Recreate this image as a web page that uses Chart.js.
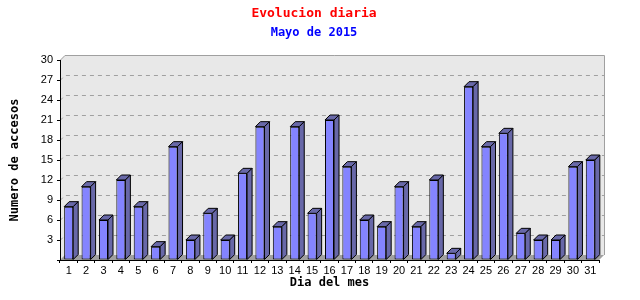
<!DOCTYPE html>
<html>
<head>
<meta charset="utf-8">
<script src="https://cdn.jsdelivr.net/npm/chart.js@4/dist/chart.umd.min.js"></script>
<style>
  html, body { margin: 0; padding: 0; background: #fff; }
  #wrap { width: 640px; height: 300px; }
</style>
</head>
<body>
<div id="wrap"><canvas id="c" width="640" height="300"></canvas></div>
<script>
// daily hits, May 2015
const days = ['1','2','3','4','5','6','7','8','9','10','11','12','13','14','15','16',
  '17','18','19','20','21','22','23','24','25','26','27','28','29','30','31'];
const accesses = [8, 11, 6, 12, 8, 2, 17, 3, 7, 3, 13, 20, 5, 20, 7, 21,
  14, 6, 5, 11, 5, 12, 1, 26, 17, 19, 4, 3, 3, 14, 15];
const yTicks = [3, 6, 9, 12, 15, 18, 21, 24, 27, 30];

const DEPTH = 5;
const WALL = '#e8e8e8', WALL_EDGE = '#a0a0a0', FLOOR = '#a0a0a0', GRID = '#a0a0a0';
const FRONT = '#8484ff', SIDE = '#6868a8';

// back wall, left wall, floor and dashed grid behind the bars
const walls3d = {
  id: 'walls3d',
  beforeDraw(chart) {
    const { ctx, chartArea: a } = chart;
    const y = chart.scales.y, d = DEPTH;
    ctx.save();
    ctx.fillStyle = WALL;
    ctx.beginPath();
    ctx.moveTo(a.left, a.bottom);
    ctx.lineTo(a.left, a.top);
    ctx.lineTo(a.left + d, a.top - d);
    ctx.lineTo(a.right + d, a.top - d);
    ctx.lineTo(a.right + d, a.bottom - d);
    ctx.lineTo(a.right, a.bottom);
    ctx.closePath();
    ctx.fill();

    ctx.strokeStyle = WALL_EDGE;
    ctx.lineWidth = 1;
    ctx.beginPath();
    ctx.moveTo(a.left, a.top + 0.5);
    ctx.lineTo(a.left + d, a.top - d + 0.5);
    ctx.lineTo(a.right + d + 0.5, a.top - d + 0.5);
    ctx.lineTo(a.right + d + 0.5, a.bottom - d);
    ctx.stroke();

    // grid
    ctx.strokeStyle = GRID;
    ctx.setLineDash([4, 4]);
    yTicks.slice(0, -1).forEach(v => {
      const py = Math.round(y.getPixelForValue(v)) + 0.5;
      ctx.beginPath();
      ctx.moveTo(a.left, py);
      ctx.lineTo(a.left + d, py - d);
      ctx.lineTo(a.right + d, py - d);
      ctx.stroke();
    });
    ctx.setLineDash([]);

    // floor
    ctx.fillStyle = FLOOR;
    ctx.beginPath();
    ctx.moveTo(a.left, a.bottom);
    ctx.lineTo(a.left + d, a.bottom - d);
    ctx.lineTo(a.right + d, a.bottom - d);
    ctx.lineTo(a.right, a.bottom);
    ctx.closePath();
    ctx.fill();
    ctx.restore();
  }
};

// top and side faces of each bar
const bars3d = {
  id: 'bars3d',
  afterDatasetsDraw(chart) {
    const { ctx } = chart, d = DEPTH;
    ctx.save();
    ctx.fillStyle = SIDE;
    ctx.strokeStyle = '#000';
    ctx.lineWidth = 1;
    chart.getDatasetMeta(0).data.forEach(bar => {
      const { x, y, base, width } = bar.getProps(['x', 'y', 'base', 'width'], true);
      const l = x - width / 2, r = x + width / 2;
      ctx.beginPath();
      ctx.moveTo(l, y);
      ctx.lineTo(l + d, y - d);
      ctx.lineTo(r + d, y - d);
      ctx.lineTo(r, y);
      ctx.closePath();
      ctx.fill(); ctx.stroke();
      ctx.beginPath();
      ctx.moveTo(r, y);
      ctx.lineTo(r + d, y - d);
      ctx.lineTo(r + d, base - d);
      ctx.lineTo(r, base);
      ctx.closePath();
      ctx.fill(); ctx.stroke();
    });
    ctx.restore();
  }
};

const tickFont = { family: '"Liberation Sans", Arial, sans-serif', size: 11 };
const monoBold = { family: '"DejaVu Sans Mono", monospace', size: 12, weight: 'bold' };

new Chart(document.getElementById('c'), {
  type: 'bar',
  data: {
    labels: days,
    datasets: [{
      label: 'Accesos',
      data: accesses,
      backgroundColor: FRONT,
      borderColor: '#000',
      borderWidth: 1,
      borderSkipped: false,
      categoryPercentage: 1,
      barPercentage: 0.52
    }]
  },
  options: {
    responsive: false,
    animation: false,
    events: [],
    layout: { padding: { left: 0, right: 12, top: 0, bottom: 0 } },
    plugins: {
      legend: { display: false },
      tooltip: { enabled: false },
      title: {
        display: true,
        text: 'Evolucion diaria',
        color: '#ff0000',
        font: { family: '"DejaVu Sans Mono", monospace', size: 13, weight: 'bold', lineHeight: 1.2 },
        padding: { top: 6, bottom: 2 }
      },
      subtitle: {
        display: true,
        text: 'Mayo de 2015',
        color: '#0000ff',
        font: { family: '"DejaVu Sans Mono", monospace', size: 12, weight: 'bold', lineHeight: 1.2 },
        padding: { top: 2, bottom: 20 }
      }
    },
    scales: {
      x: {
        grid: { display: true, drawOnChartArea: false, drawTicks: true, tickLength: 3, color: '#000' },
        border: { display: true, color: '#000' },
        ticks: { color: '#000', font: tickFont, padding: 1, maxRotation: 0, autoSkip: false },
        title: { display: true, text: 'Dia del mes', color: '#000', font: monoBold, padding: { top: 0, bottom: 10 } },
        afterFit(s) { s.height = 40; }
      },
      y: {
        min: 0,
        max: 30,
        grid: { display: true, drawOnChartArea: false, drawTicks: true, tickLength: 3, color: '#000' },
        border: { display: true, color: '#000' },
        ticks: {
          stepSize: 3, color: '#000', font: tickFont, padding: 4,
          callback: v => (v === 0 ? '' : v)
        },
        title: { display: true, text: 'Numero de accesos', color: '#000', font: monoBold, padding: { top: 8, bottom: 0 } },
        afterFit(s) { s.width = 60; }
      },
      y2: {
        position: 'right',
        display: true,
        grid: { display: false, drawTicks: false },
        border: { display: false },
        ticks: { display: false },
        afterFit(s) { s.width = 29; }
      }
    }
  },
  plugins: [walls3d, bars3d]
});
</script>
</body>
</html>
